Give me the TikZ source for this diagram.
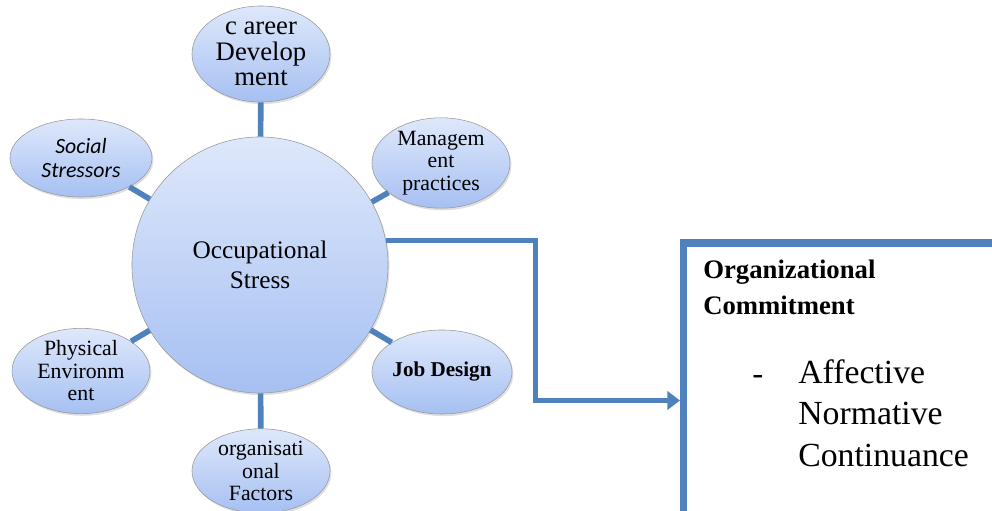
\documentclass[tikz,border=0pt]{standalone}
\usepackage{fontspec}
\setmainfont{Liberation Serif}
\newfontfamily\calibri{Carlito}
\usepackage{xcolor}
\usetikzlibrary{shapes.geometric,arrows.meta,shadows}
\definecolor{linkblue}{HTML}{4F81BD}
\definecolor{ellTop}{HTML}{DEE8FB}
\definecolor{ellBot}{HTML}{A6C0F2}
\begin{document}
\begin{tikzpicture}[x=0.025cm,y=0.025cm,
		factor/.style={ellipse, draw=gray!80, top color=ellTop, bottom color=ellBot,
			drop shadow={shadow xshift=1pt, shadow yshift=-1.5pt, opacity=0.25},
			minimum width=3.45cm, minimum height=2.1cm, inner sep=0pt, align=center,
			font=\fontsize{15.5}{16}\selectfont},
		link/.style={draw=linkblue, line width=4pt}]
		\clip (0,0) rectangle (992,511);
		\node[factor, circle, minimum size=6.4cm, font=\fontsize{18}{21}\selectfont] (stress) at (260,246) {Occupational\\Stress};
		\node[factor, minimum width=3.45cm, minimum height=2.4cm, font=\fontsize{19}{18}\selectfont] (career) at (261,457) {c areer\\Develop\\ment};
		\node[factor, minimum width=3.55cm, minimum height=1.95cm, font=\calibri\itshape\fontsize{15.5}{17}\selectfont] (social) at (81,353) {Social\\Stressors};
		\node[factor] (manage) at (441,348) {Managem\\ent\\practices};
		\node[factor] (physical) at (81,140) {Physical\\Environm\\ent};
		\node[factor, font=\bfseries\fontsize{15}{16}\selectfont] (jobdes) at (442,139) {Job Design};
		\node[factor] (orgfac) at (261,40) {organisati\\onal\\Factors};
		\draw[link] (stress) -- (career);
		\draw[link] (stress) -- (social);
		\draw[link] (stress) -- (manage);
		\draw[link] (stress) -- (physical);
		\draw[link] (stress) -- (jobdes);
		\draw[link] (stress) -- (orgfac);
		\node[draw=linkblue, line width=5pt, anchor=north west, minimum width=8.5cm, minimum height=7.5cm] (commit) at (680,271.5) {};
		\coordinate (turn) at (535.5,110.5);
		\draw[link, -{Triangle[length=9pt,width=13pt]}] (stress.11) -| (turn) -- (turn -| commit.west);
		\node[anchor=north west, inner sep=0pt, align=left, font=\bfseries\fontsize{19}{25.5}\selectfont] (head) at (703,251) {Organizational\\Commitment};
		\node[anchor=north west, inner sep=0pt, font=\fontsize{23.5}{29.5}\selectfont] (dash) at (752,136) {-};
		\node[anchor=north west, inner sep=0pt, align=left, font=\fontsize{24}{29.5}\selectfont] (kinds) at (798,152) {Affective\\Normative\\Continuance};
	\end{tikzpicture}
\end{document}
